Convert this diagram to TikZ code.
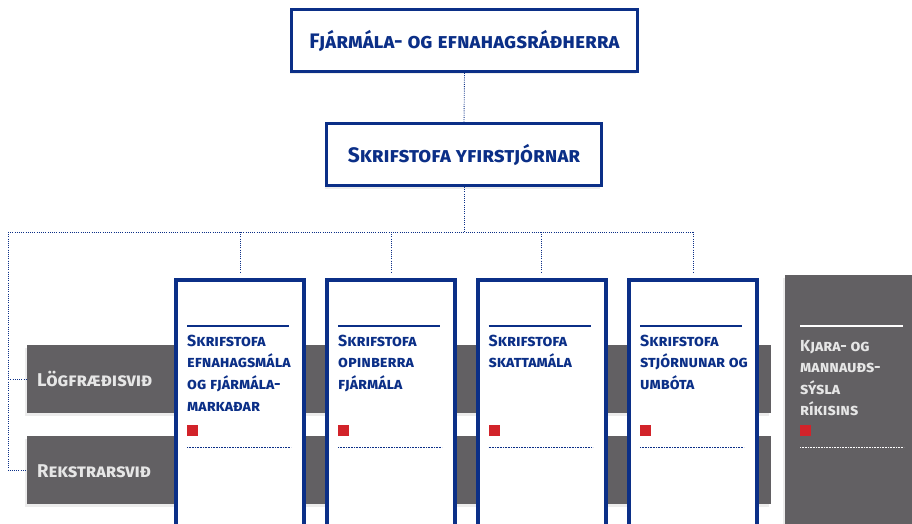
\documentclass[tikz,border=0pt]{standalone}
\usepackage{fontspec}
\setmainfont{Fira Sans}
\newfontfamily\hdfont{Fira Sans Bold}[Letters=SmallCaps]
\usetikzlibrary{shadows}
\definecolor{navy}{HTML}{0B2F87}
\definecolor{bandgray}{HTML}{626063}
\definecolor{redsq}{HTML}{D2232A}
\definecolor{lighttxt}{HTML}{E6E6E6}
\begin{document}
\begin{tikzpicture}[x=1pt,y=-1pt,
  conn/.style={navy, line width=0.9pt, dash pattern=on 0.9pt off 1.3pt},
  softshadow/.style={drop shadow={shadow xshift=-2pt, shadow yshift=-3pt, opacity=0.15}},
  headbox/.style={draw=navy, line width=3pt, fill=white, inner sep=0pt, minimum height=62pt,
    font=\hdfont\fontsize{21}{24}\selectfont, text=navy, softshadow},
  bandbox/.style={fill=bandgray, inner sep=0pt, minimum height=68pt, anchor=north west, softshadow},
  bandtxt/.style={anchor=base west, inner sep=0pt, text=lighttxt, font=\hdfont\fontsize{18.5}{21}\selectfont},
  colbox/.style={draw=navy, line width=4pt, fill=white, inner sep=0pt, minimum width=128pt, minimum height=300pt, anchor=north west, softshadow},
  coltxt/.style={anchor=base west, inner sep=0pt, text=navy, font=\hdfont\fontsize{16}{18}\selectfont},
  kjtxt/.style={anchor=base west, inner sep=0pt, text=lighttxt, font=\hdfont\fontsize{16}{18}\selectfont},
  redbox/.style={fill=redsq, draw=none, inner sep=0pt, minimum size=11pt, anchor=north west},
  rulesolid/.style={line width=2pt},
  ruledot/.style={line width=1pt, dash pattern=on 1pt off 0.6pt}
]
\useasboundingbox (0,0) rectangle (912,524);

% top boxes
\node[headbox, minimum width=346pt] (min) at (464.5,40.5) {Fjármála- og efnahagsráðherra};
\node[headbox, minimum width=275pt] (yfir) at (464,154.5) {Skrifstofa yfirstjórnar};

\coordinate (busL) at (8,232);
\coordinate (bus) at (464,232);

% bands
\node[bandbox, minimum width=744pt] (log) at (27,345) {};
\node[bandbox, minimum width=744pt] (rek) at (27,436) {};
\node[bandtxt] (logt) at (37,386) {Lögfræðisvið};
\node[bandtxt] (rekt) at (37,477) {Rekstrarsvið};

% columns
\node[colbox] (c1) at (174,278) {};
\node[colbox] (c2) at (325,278) {};
\node[colbox] (c3) at (475.5,278) {};
\node[colbox] (c4) at (627,278) {};

% Kjara box
\node[fill=bandgray, inner sep=0pt, minimum width=140pt, minimum height=260pt, anchor=north west, softshadow] (kj) at (785,275) {};

% connectors
\draw[conn] (min.south) -- (yfir.north);
\draw[conn] (yfir.south) -- (bus);
\draw[conn] (busL) -- (c4.north |- busL);
\foreach \c in {c1,c2,c3,c4} \draw[conn, shorten >=6pt] (\c.north |- busL) -- (\c.north);
\draw[conn] (busL) |- (log.west);
\draw[conn] (busL) |- (rek.west);

% column contents
\foreach \x/\c in {187/c1,338/c2,488.5/c3,640/c4}{
  \draw[navy, rulesolid] (\x,326) -- (\x+102,326);
  \draw[navy, ruledot] (\x,447) -- (\x+104,447);
  \node[redbox] at (\x,425) {};
}
\node[coltxt] (t1a) at (187,346) {Skrifstofa};
\node[coltxt] (t1b) at (187,367.7) {efnahagsmála};
\node[coltxt] (t1c) at (187,389.4) {og fjármála-};
\node[coltxt] (t1d) at (187,411.1) {markaðar};

\node[coltxt] (t2a) at (338,346) {Skrifstofa};
\node[coltxt] (t2b) at (338,367.7) {opinberra};
\node[coltxt] (t2c) at (338,389.4) {fjármála};

\node[coltxt] (t3a) at (488.5,346) {Skrifstofa};
\node[coltxt] (t3b) at (488.5,367.7) {skattamála};

\node[coltxt] (t4a) at (640,346) {Skrifstofa};
\node[coltxt] (t4b) at (640,367.7) {stjórnunar og};
\node[coltxt] (t4c) at (640,389.4) {umbóta};

% Kjara contents
\draw[white, rulesolid] (800,326) -- (903,326);
\draw[white, ruledot] (800,447) -- (904,447);
\node[redbox] (kjr) at (800,425) {};
\node[kjtxt] (k1) at (800,351) {Kjara- og};
\node[kjtxt] (k2) at (800,372.5) {mannauðs-};
\node[kjtxt] (k3) at (800,394) {sýsla};
\node[kjtxt] (k4) at (800,415.5) {ríkisins};
\end{tikzpicture}
\end{document}
